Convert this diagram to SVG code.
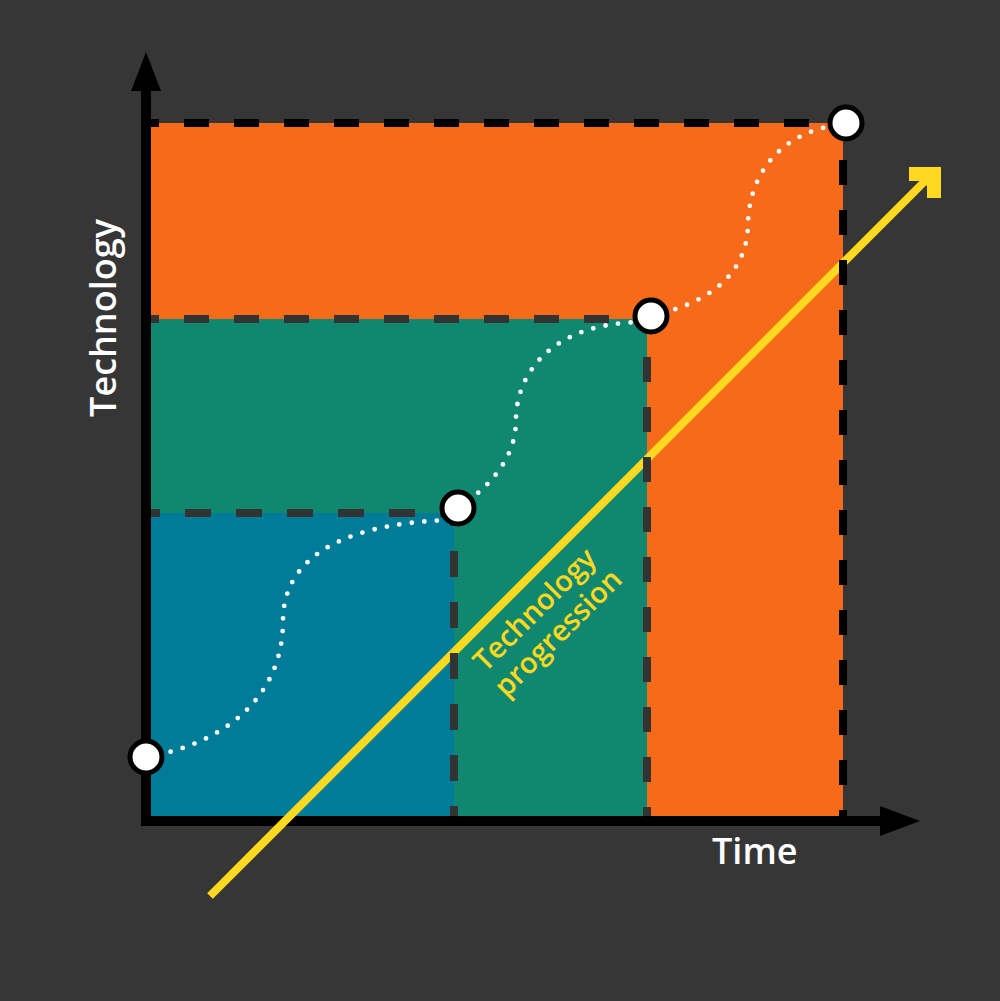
<svg xmlns="http://www.w3.org/2000/svg" width="1000" height="1001" viewBox="0 0 1000 1001">
  <defs>
    <style>
      .dashK { stroke: #000000; stroke-width: 8; fill: none; stroke-dasharray: 25 25; }
      .dashG { stroke: #333333; stroke-width: 8; fill: none; stroke-dasharray: 25 25; }
      .dashG2 { stroke: #333333; stroke-width: 8; fill: none; stroke-dasharray: 26 25; }
      .dots { stroke: #ffffff; stroke-width: 4.8; fill: none; stroke-linecap: round; stroke-dasharray: 0 12.6; }
      .node { fill: #ffffff; stroke: #000000; stroke-width: 5; }
      .axis { stroke: #000000; stroke-width: 10; fill: none; stroke-linejoin: miter; }
      .lbl { font-family: "Open Sans", "DejaVu Sans", sans-serif; font-weight: 600; fill: #ffffff; font-size: 36px; }
      .ylbl { font-family: "Open Sans", "DejaVu Sans", sans-serif; font-weight: 600; fill: #ffd91f; font-size: 29px; }
    </style>
  </defs>
  <rect x="0" y="0" width="1000" height="1001" fill="#363636"/>

  <g id="regions">
    <rect id="region-orange" x="151" y="123" width="692" height="693" fill="#f76a19"/>
    <rect id="region-teal" x="151" y="319" width="496" height="497" fill="#10876f"/>
    <rect id="region-blue" x="151" y="513" width="303" height="303" fill="#007c98"/>
  </g>

  <g id="axes">
    <path class="axis" d="M146,88 V821 H884"/>
    <polygon points="146,52 131,91 161,91" fill="#000000"/>
    <polygon points="920,821 880,806 880,836" fill="#000000"/>
    <text class="lbl" x="712" y="864">Time</text>
    <text class="lbl" transform="translate(116,318) rotate(-90)" x="0" y="0" text-anchor="middle">Technology</text>
  </g>

  <g id="trend">
    <line x1="210" y1="896" x2="932" y2="174" stroke="#ffd91f" stroke-width="8"/>
    <polygon points="909,167 941,167 941,198 927,198 927,186 922,181 909,181" fill="#ffd91f"/>
    <text class="ylbl" transform="rotate(-45)" x="-53" y="819" text-anchor="middle">Technology</text>
    <text class="ylbl" transform="rotate(-45)" x="-53" y="852" text-anchor="middle">progression</text>
  </g>

  <g id="guides">
    <line class="dashK" x1="151" y1="123" x2="843" y2="123" stroke-dashoffset="17"/>
    <line class="dashK" x1="843" y1="123" x2="843" y2="816" stroke-dashoffset="13"/>
    <line class="dashG" x1="151" y1="319" x2="647" y2="319" stroke-dashoffset="17"/>
    <line class="dashG" x1="647" y1="319" x2="647" y2="816" stroke-dashoffset="12"/>
    <line class="dashG2" x1="151" y1="513" x2="454" y2="513" stroke-dashoffset="17"/>
    <line class="dashG2" x1="454" y1="513" x2="454" y2="816" stroke-dashoffset="13"/>
  </g>

  <g id="connectors">
    <path class="dots" d="M146,757 C220,745 283,700 283,621 C283,565 330,524 450,520"/>
    <path class="dots" d="M458,508 C500,480 516,450 516,420 C516,375 550,322 645,322"/>
    <path class="dots" d="M651,316 C700,305 748,280 748,223 C750,165 790,130 840,125"/>
  </g>

  <g id="node-1"><circle class="node" cx="146" cy="757" r="16"/></g>
  <g id="node-2"><circle class="node" cx="458" cy="508" r="16"/></g>
  <g id="node-3"><circle class="node" cx="651" cy="316" r="16"/></g>
  <g id="node-4"><circle class="node" cx="846" cy="123" r="16"/></g>
</svg>
